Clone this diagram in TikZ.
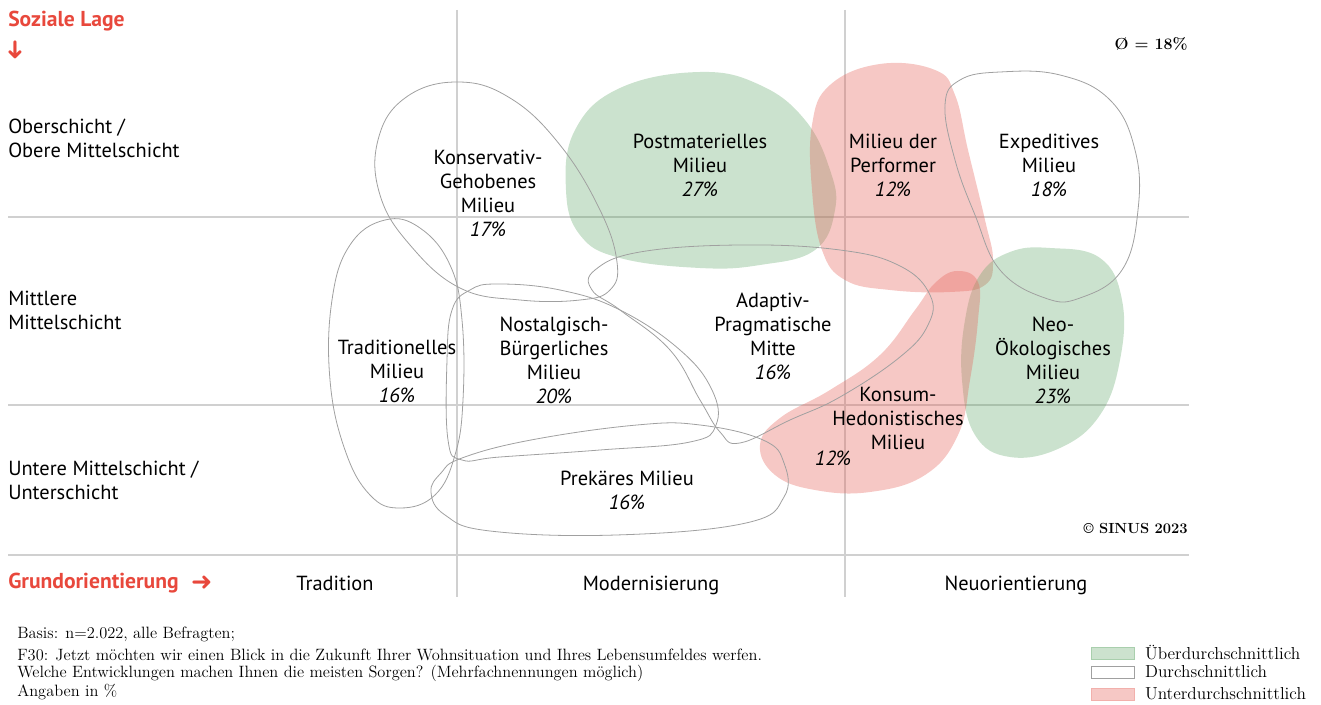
\documentclass[tikz,border=0pt]{standalone}
\usepackage{fontspec}
\setsansfont{PT Sans}
\newfontfamily\symfont{DejaVu Sans}
\usetikzlibrary{positioning}
\definecolor{sinusred}{RGB}{232,72,60}
\definecolor{gridgray}{RGB}{208,208,208}
\definecolor{linegray}{RGB}{160,160,160}
\definecolor{upgreen}{RGB}{84,160,92}
\definecolor{downred}{RGB}{229,98,89}
\tikzstyle{gridline} = [draw=gridgray, line width=0.8pt]
\tikzstyle{rand} = [draw=linegray, line width=0.6pt]
\tikzstyle{ueber} = [fill=upgreen, fill opacity=0.3]
\tikzstyle{unter} = [fill=downred, fill opacity=0.35]
\tikzstyle{mtext} = [font=\sffamily\fontsize{15.3}{18}\selectfont, align=center, inner sep=0pt]
\tikzstyle{achse} = [font=\sffamily\fontsize{15.3}{18}\selectfont, align=left, inner sep=0pt, anchor=west]
\tikzstyle{rot} = [font=\sffamily\bfseries\fontsize{16.2}{18}\selectfont, text=sinusred, inner sep=0pt, anchor=west]
\tikzstyle{pfeil} = [font=\symfont\fontsize{19}{18}\selectfont, text=sinusred, inner sep=0pt]
\tikzstyle{fuss} = [font=\fontsize{12.3}{14}\selectfont, inner sep=0pt, anchor=west]
\tikzstyle{legtext} = [font=\fontsize{13}{14}\selectfont, inner sep=0pt, anchor=west]
\tikzstyle{legbox} = [rectangle, minimum width=32pt, minimum height=9pt, inner sep=0pt]

\begin{document}
\begin{tikzpicture}[x=0.75pt, y=-0.75pt, node distance=8pt]
    \useasboundingbox (0,0) rectangle (1321,705);

    % Raster
    \draw[gridline] (457,10) -- (457,597);
    \draw[gridline] (845,10) -- (845,597);
    \draw[gridline] (8,217) -- (1189,217);
    \draw[gridline] (8,405) -- (1189,405);
    \draw[gridline] (8,555) -- (1189,555);

    % Flaechen
    \fill[ueber] plot[smooth cycle, tension=0.7] coordinates {(700,72) (760,85) (805,120) (830,170) (835,210) (815,250) (760,265) (700,268) (620,258) (580,235) (566,190) (575,130) (620,88)};
    \fill[unter] plot[smooth cycle, tension=0.7] coordinates {(880,64) (935,70) (955,95) (968,150) (985,220) (993,260) (985,285) (950,292) (890,290) (845,280) (822,250) (812,190) (812,125) (830,85)};
    \fill[ueber] plot[smooth cycle, tension=0.7] coordinates {(1050,248) (1100,258) (1122,300) (1120,360) (1100,415) (1060,448) (1010,457) (975,435) (962,380) (965,320) (980,275) (1010,252)};
    \fill[unter] plot[smooth cycle, tension=0.7] coordinates {(957,271) (978,282) (978,320) (970,380) (958,435) (925,475) (870,492) (815,490) (775,475) (760,445) (780,418) (830,390) (880,355) (915,310) (935,283)};

    % Umrisse
    \draw[rand] plot[smooth cycle, tension=0.7] coordinates {(457,82) (510,98) (560,145) (600,210) (617,262) (610,290) (580,300) (520,300) (460,288) (410,245) (380,195) (378,140) (405,98)};
    \draw[rand] plot[smooth cycle, tension=0.7] coordinates {(385,220) (420,228) (450,265) (462,320) (463,400) (455,455) (435,495) (400,508) (370,495) (345,450) (330,380) (332,300) (350,245)};
    \draw[rand] plot[smooth cycle, tension=0.7] coordinates {(498,284) (560,290) (620,310) (680,350) (712,390) (716,425) (690,442) (600,450) (500,457) (462,460) (448,440) (447,360) (452,310) (470,290)};
    \draw[rand] plot[smooth cycle, tension=0.7] coordinates {(431,492) (445,515) (490,531) (616,535) (746,523) (784,497) (784,463) (763,440) (700,425) (637,425) (531,440) (462,458) (441,473)};
    \draw[rand] plot[smooth cycle, tension=0.7] coordinates {(595,270) (640,252) (740,245) (840,250) (900,266) (930,295) (928,325) (900,357) (840,397) (790,420) (740,443) (720,432) (700,400) (670,350) (620,310) (592,290)};
    \draw[rand] plot[smooth cycle, tension=0.7] coordinates {(1000,72) (1060,75) (1110,100) (1135,150) (1138,210) (1122,270) (1080,298) (1045,298) (1000,270) (975,215) (955,160) (945,105) (960,80)};

    % Milieus
    \node[mtext] (kons) at (488,193.5) {Konservativ-\\Gehobenes\\Milieu\\\textit{17\%}};
    \node[mtext] (post) at (700,165.5) {Postmaterielles\\Milieu\\\textit{27\%}};
    \node[mtext] (perf) at (893,165.5) {Milieu der\\Performer\\\textit{12\%}};
    \node[mtext] (expe) at (1049,165.5) {Expeditives\\Milieu\\\textit{18\%}};
    \node[mtext] (trad) at (397,371.5) {Traditionelles\\Milieu\\\textit{16\%}};
    \node[mtext] (nost) at (554,360) {Nostalgisch-\\Bürgerliches\\Milieu\\\textit{20\%}};
    \node[mtext] (adap) at (773,336) {Adaptiv-\\Pragmatische\\Mitte\\\textit{16\%}};
    \node[mtext] (neoe) at (1053,360.5) {Neo-\\Ökologisches\\Milieu\\\textit{23\%}};
    \node[mtext] (kons2) at (898,418.5) {Konsum-\\Hedonistisches\\Milieu};
    \node[mtext] (konsp) at (833,458) {\textit{12\%}};
    \node[mtext] (prek) at (627,490) {Prekäres Milieu\\\textit{16\%}};

    % Achsen
    \node[rot] (lage) at (8,21) {Soziale Lage};
    \node[pfeil, rotate=-90] (lagepfeil) at (15,50) {➜};
    \node[achse] (ober) at (8,138) {Oberschicht /\\Obere Mittelschicht};
    \node[achse] (mitte) at (8,310.5) {Mittlere\\Mittelschicht};
    \node[achse] (unter) at (8,480.5) {Untere Mittelschicht /\\Unterschicht};
    \node[rot] (grund) at (8,583) {Grundorientierung};
    \node[pfeil, right=9pt of grund] (grundpfeil) {➜};
    \node[mtext, anchor=base] (trad0) at (335,590.5) {Tradition};
    \node[mtext, anchor=base] (mod0) at (651,590.5) {Modernisierung};
    \node[mtext, anchor=base] (neu0) at (1016,590.5) {Neuorientierung};

    \node[inner sep=0pt, anchor=east, font=\bfseries\fontsize{12}{14}\selectfont] (schnitt) at (1188,44) {\O{} = 18\%};
    \node[inner sep=0pt, anchor=east, font=\bfseries\fontsize{11}{14}\selectfont] (copy) at (1188,528) {\textcopyright{} SINUS 2023};

    % Fussnote
    \node[fuss] (fn1) at (17,634) {Basis: n=2.022, alle Befragten;};
    \node[fuss] (fn2) at (17,655) {F30: Jetzt möchten wir einen Blick in die Zukunft Ihrer Wohnsituation und Ihres Lebensumfeldes werfen.};
    \node[fuss] (fn3) at (17,673) {Welche Entwicklungen machen Ihnen die meisten Sorgen? (Mehrfachnennungen möglich)};
    \node[fuss] (fn4) at (17,692) {Angaben in \%};

    % Legende
    \node[legbox, draw=upgreen!50, fill=upgreen!30] (lg1) at (1112.5,653) {};
    \node[legbox, draw=linegray] (lg2) at (1112.5,672) {};
    \node[legbox, draw=downred!50, fill=downred!35] (lg3) at (1112.5,694) {};
    \node[legtext, right=of lg1] (lt1) {Überdurchschnittlich};
    \node[legtext, right=of lg2] (lt2) {Durchschnittlich};
    \node[legtext, right=of lg3] (lt3) {Unterdurchschnittlich};
\end{tikzpicture}
\end{document}
